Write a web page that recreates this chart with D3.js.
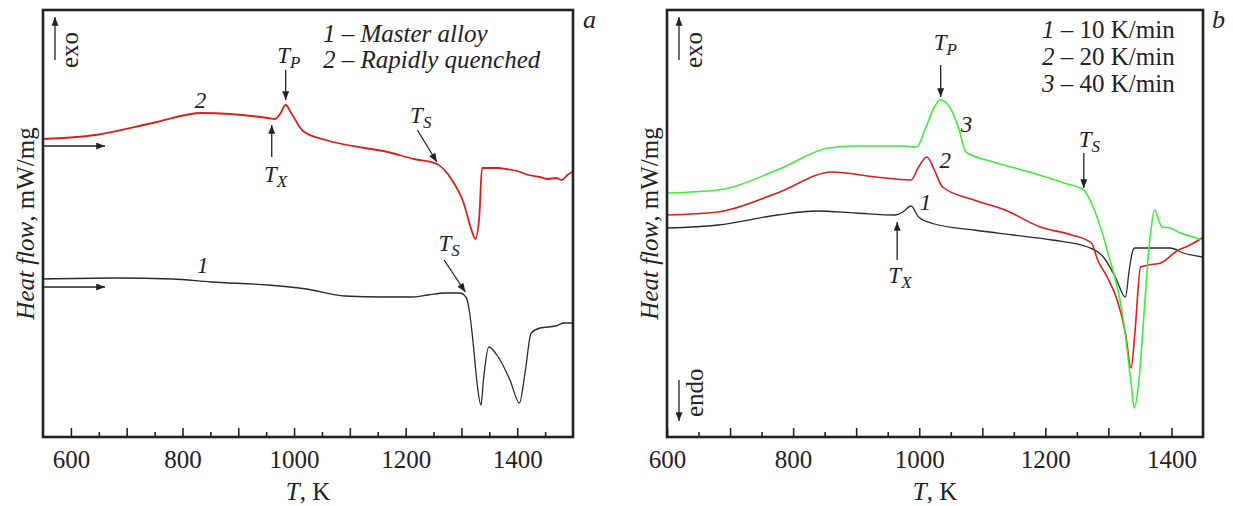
<!DOCTYPE html>
<html>
<head>
<meta charset="utf-8">
<script src="https://cdn.jsdelivr.net/npm/d3@7"></script>
<style>
body { margin: 0; background: #fff; }
svg { display: block; }
svg text { font-family: "Liberation Serif", "Times New Roman", "DejaVu Serif", serif !important; }
</style>
</head>
<body>
<svg id="chart" width="1233" height="506"></svg>
<script>
// panel a: T (K), heat flow (mW/mg, arbitrary offset)
const masterAlloy = [
    [550, 1.58], [679, 1.59], [782, 1.58], [851, 1.55], [953, 1.52], [1022, 1.48],
    [1091, 1.41], [1160, 1.40], [1210, 1.40], [1240, 1.42], [1270, 1.44], [1297, 1.44], [1308, 1.40],
    [1314, 1.27], [1321, 0.94], [1328, 0.54], [1335, 0.32], [1340, 0.60], [1349, 0.90],
    [1366, 0.80], [1387, 0.57], [1404, 0.34], [1414, 0.64], [1425, 1.04], [1441, 1.09],
    [1469, 1.11], [1483, 1.14], [1499, 1.14]
];
const rapidlyQuenched = [
    [550, 2.98], [644, 3.02], [747, 3.14], [835, 3.24], [885, 3.23], [953, 3.19],
    [966, 3.18], [975, 3.23], [985, 3.32], [995, 3.24], [1016, 3.06], [1057, 2.97],
    [1126, 2.89], [1160, 2.86], [1215, 2.78], [1256, 2.73], [1283, 2.57], [1304, 2.34],
    [1318, 2.07], [1325, 1.98], [1332, 2.20], [1337, 2.69], [1366, 2.69], [1380, 2.68],
    [1400, 2.66], [1420, 2.62], [1440, 2.60], [1455, 2.58], [1470, 2.59], [1480, 2.57],
    [1490, 2.62], [1499, 2.65]
];
// panel b: heating rates
const rate10 = [
    [601, 2.09], [681, 2.12], [775, 2.22], [837, 2.26], [899, 2.24], [962, 2.22],
    [974, 2.25], [987, 2.31], [999, 2.20], [1024, 2.13], [1087, 2.07], [1149, 2.02],
    [1211, 1.97], [1267, 1.90], [1292, 1.80], [1311, 1.60], [1327, 1.40], [1333, 1.67],
    [1339, 1.87], [1342, 1.89], [1367, 1.89], [1398, 1.89], [1419, 1.84], [1450, 1.80]
];
const rate20 = [
    [601, 2.22], [681, 2.25], [775, 2.44], [862, 2.65], [931, 2.60], [987, 2.57],
    [999, 2.70], [1012, 2.80], [1024, 2.67], [1037, 2.50], [1087, 2.37], [1136, 2.27],
    [1192, 2.10], [1242, 2.02], [1273, 1.94], [1283, 1.77], [1298, 1.60], [1314, 1.37],
    [1327, 1.04], [1336, 0.69], [1342, 1.04], [1351, 1.70], [1364, 1.72], [1383, 1.74],
    [1411, 1.87], [1423, 1.90], [1451, 2.00]
];
const rate40 = [
    [601, 2.44], [681, 2.47], [775, 2.67], [856, 2.89], [899, 2.91], [974, 2.91],
    [996, 2.90], [1009, 3.07], [1024, 3.30], [1033, 3.37], [1046, 3.32], [1062, 3.10],
    [1074, 2.85], [1118, 2.75], [1180, 2.64], [1230, 2.54], [1261, 2.47], [1273, 2.34],
    [1298, 1.87], [1323, 1.20], [1336, 0.54], [1341, 0.29], [1348, 0.54], [1358, 1.37],
    [1364, 1.87], [1367, 2.04], [1373, 2.27], [1385, 2.10], [1398, 2.09], [1411, 2.05],
    [1451, 1.97]
];
const tickLabels = [600, 800, 1000, 1200, 1400];
const legendA = ["Master alloy", "Rapidly quenched"];
const legendB = ["10 K/min", "20 K/min", "40 K/min"];

const colors = { black: "#2a2a2a", red: "#dd1c1c", green: "#3ded3a" };
const plotTop = 10, plotBottom = 437;
const svg = d3.select("#chart");

svg.append("defs").append("marker")
    .attr("id", "head")
    .attr("viewBox", "0 0 10 8")
    .attr("refX", 10).attr("refY", 4)
    .attr("markerWidth", 10).attr("markerHeight", 7)
    .attr("markerUnits", "userSpaceOnUse")
    .attr("orient", "auto")
    .append("path").attr("d", "M0,0L10,4L0,8z").attr("fill", "#222");

const panels = [
    {
        name: "a", domain: [550, 1500], range: [43, 573],
        series: [{ data: masterAlloy, color: colors.black }, { data: rapidlyQuenched, color: colors.red, width: 1.8 }],
        ticks: d3.range(600, 1451, 50)
    },
    {
        name: "b", domain: [600, 1450], range: [667, 1203],
        series: [{ data: rate10, color: colors.black }, { data: rate20, color: colors.red, width: 1.6 }, { data: rate40, color: colors.green, width: 1.6 }],
        ticks: d3.range(600, 1401, 50)
    }
];

panels.forEach(p => {
    p.x = d3.scaleLinear().domain(p.domain).range(p.range);
    p.y = d3.scaleLinear().domain([0, 4.27]).range([plotBottom, plotTop]);
    p.g = svg.append("g").attr("id", "panel-" + p.name);
    const line = d3.line().x(d => p.x(d[0])).y(d => p.y(d[1])).curve(d3.curveMonotoneX);

    p.g.selectAll("path.curve")
        .data(p.series)
        .join("path")
        .attr("class", "curve")
        .attr("d", s => line(s.data))
        .attr("fill", "none")
        .attr("stroke", s => s.color)
        .attr("stroke-width", s => s.width || 1.3);

    // minor + major ticks, pointing inward
    const minor = d3.axisBottom(p.x).tickValues(p.ticks.filter(t => t % 100 !== 0)).tickSize(-5).tickFormat("");
    const major = d3.axisBottom(p.x).tickValues(p.ticks.filter(t => t % 100 === 0)).tickSize(-9).tickPadding(13)
        .tickFormat(d => tickLabels.includes(d) ? d : "");
    [minor, major].forEach(ax => {
        const a = p.g.append("g").attr("transform", `translate(0,${plotBottom})`).call(ax);
        a.select(".domain").remove();
        a.selectAll("line").attr("stroke", "#222").attr("stroke-width", 1.6);
        a.selectAll("text").attr("font-size", 25).attr("fill", "#222");
    });

    p.g.append("rect")
        .attr("x", p.range[0]).attr("y", plotTop)
        .attr("width", p.range[1] - p.range[0]).attr("height", plotBottom - plotTop)
        .attr("fill", "none").attr("stroke", "#222").attr("stroke-width", 2.6);

    const cx = (p.range[0] + p.range[1]) / 2;
    const xt = p.g.append("text").attr("x", cx).attr("y", 500).attr("text-anchor", "middle")
        .attr("font-size", 25).attr("fill", "#222");
    xt.append("tspan").attr("font-style", "italic").text("T");
    xt.append("tspan").text(", K");

    const yx = p.range[0] - 9;
    const yt = p.g.append("text")
        .attr("transform", `translate(${yx},${(plotTop + plotBottom) / 2}) rotate(-90)`)
        .attr("text-anchor", "middle").attr("font-size", 25).attr("fill", "#222");
    yt.append("tspan").attr("font-style", "italic").text("Heat flow");
    yt.append("tspan").text(", mW/mg");

    p.g.append("text").attr("x", p.range[1] + (p.name === "a" ? 10 : 9)).attr("y", 28)
        .attr("font-size", 26).attr("font-style", "italic").attr("fill", "#222").text(p.name);

    // exo arrow
    const ax = p.range[0] + 12;
    p.g.append("line").attr("x1", ax).attr("x2", ax).attr("y1", 60).attr("y2", 17)
        .attr("stroke", "#222").attr("stroke-width", 1.3).attr("marker-end", "url(#head)");
    p.g.append("text").attr("transform", `translate(${ax + 23},68) rotate(-90)`)
        .attr("font-size", 25).attr("fill", "#222").text("exo");
});

function arrow(p, t1, v1, t2, v2) {
    p.g.append("line")
        .attr("x1", p.x(t1)).attr("y1", p.y(v1)).attr("x2", p.x(t2)).attr("y2", p.y(v2))
        .attr("stroke", "#222").attr("stroke-width", 1.3).attr("marker-end", "url(#head)");
}
function tLabel(p, t, v, sub) {
    const el = p.g.append("text").attr("x", p.x(t)).attr("y", p.y(v))
        .attr("font-size", 23).attr("font-style", "italic").attr("fill", "#222");
    el.append("tspan").text("T");
    el.append("tspan").attr("font-size", 17).attr("dy", 5).text(sub);
}
function numLabel(p, t, v, n) {
    p.g.append("text").attr("x", p.x(t)).attr("y", p.y(v))
        .attr("font-size", 23).attr("font-style", "italic").attr("fill", "#222").text(n);
}

const [pa, pb] = panels;

// panel a annotations
arrow(pa, 552, 2.91, 661, 2.91);
arrow(pa, 552, 1.50, 661, 1.50);
arrow(pa, 985, 3.67, 985, 3.37);
tLabel(pa, 970, 3.74, "P");
arrow(pa, 960, 2.80, 960, 3.12);
tLabel(pa, 946, 2.55, "X");
arrow(pa, 1221, 3.07, 1256, 2.75);
tLabel(pa, 1208, 3.14, "S");
arrow(pa, 1269, 1.77, 1307, 1.45);
tLabel(pa, 1259, 1.86, "S");
numLabel(pa, 822, 3.29, "2");
numLabel(pa, 826, 1.64, "1");

const legA = pa.g.append("g").attr("font-size", 25).attr("font-style", "italic").attr("fill", "#222");
legendA.forEach((s, i) => {
    legA.append("text").attr("x", 323).attr("y", 41.7 + i * 26.7).text(`${i + 1} – ${s}`);
});

// panel b annotations
arrow(pb, 1034, 3.72, 1034, 3.40);
tLabel(pb, 1023, 3.87, "P");
arrow(pb, 1261, 2.84, 1261, 2.49);
tLabel(pb, 1253, 2.90, "S");
arrow(pb, 965, 1.77, 965, 2.15);
tLabel(pb, 951, 1.54, "X");
numLabel(pb, 1066, 3.05, "3");
numLabel(pb, 1032, 2.69, "2");
numLabel(pb, 1001, 2.27, "1");

const endoX = pb.range[0] + 12;
pb.g.append("line").attr("x1", endoX).attr("x2", endoX).attr("y1", 380).attr("y2", 421)
    .attr("stroke", "#222").attr("stroke-width", 1.3).attr("marker-end", "url(#head)");
pb.g.append("text").attr("transform", `translate(${endoX + 24},417) rotate(-90)`)
    .attr("font-size", 25).attr("fill", "#222").text("endo");

const legB = pb.g.append("g").attr("font-size", 25).attr("fill", "#222");
legendB.forEach((s, i) => {
    const t = legB.append("text").attr("x", 1042).attr("y", 38.3 + i * 26.7);
    t.append("tspan").attr("font-style", "italic").text(i + 1);
    t.append("tspan").text(" – " + s);
});
</script>
</body>
</html>
